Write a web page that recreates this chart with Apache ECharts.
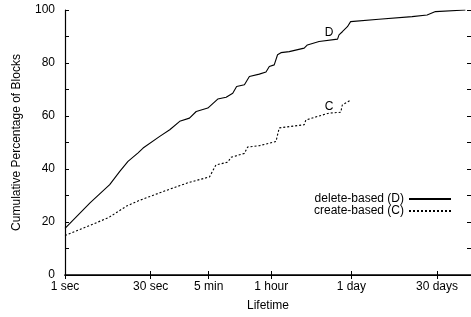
<!DOCTYPE html>
<html>
<head>
<meta charset="utf-8">
<script src="https://cdn.jsdelivr.net/npm/echarts@6/dist/echarts.min.js"></script>
<style>
  html, body { margin: 0; padding: 0; background: #fff; }
  #chart { width: 471px; height: 317px; }
</style>
</head>
<body>
<div id="chart"></div>
<script>
// lifetimes in seconds, cumulative % of blocks
var deleteSecs = [1, 2.7, 5.9, 8.8, 12.2, 18.2, 22.2, 43, 64, 95, 140, 183, 290, 430, 600, 780, 910, 1240, 1510, 2240, 2920, 3330, 4050, 4620, 5290, 7350, 13300, 15100, 24000, 50000, 53000, 60500, 74000, 84000, 258000, 965000, 1750000, 2440000, 8000000];
var deletePct = [17.6, 27.2, 34.1, 39.1, 42.9, 46.1, 47.9, 52.3, 54.8, 58.0, 59.2, 61.7, 63.0, 66.4, 67.1, 68.6, 71.1, 71.8, 74.9, 75.8, 76.6, 78.7, 79.3, 83.1, 83.9, 84.3, 85.6, 86.8, 88.1, 89.0, 90.6, 91.8, 93.7, 95.6, 96.5, 97.5, 98.1, 99.4, 100];
var createSecs = [1, 5.6, 11.5, 19.4, 43, 64, 140, 310, 400, 640, 730, 1240, 1410, 2240, 4340, 4940, 13300, 14200, 24000, 35700, 56800, 60500, 84000];
var createPct = [14.9, 21.6, 26.0, 28.2, 31.0, 32.4, 35.0, 37.0, 41.5, 42.6, 44.4, 45.9, 48.3, 48.8, 50.4, 55.5, 56.7, 58.5, 60.0, 61.1, 61.4, 64.2, 66.0];

var xTickValues = [1, 30, 300, 3600, 86400, 2592000];
var xTickLabels = ['1 sec', '30 sec', '5 min', '1 hour', '1 day', '30 days'];
var seriesNames = ['delete-based (D)', 'create-based (C)'];

function pairs(xs, ys) {
    return xs.map(function (x, i) { return [x, ys[i]]; });
}

var FONT = 'Liberation Sans';

var chart = echarts.init(document.getElementById('chart'));
chart.setOption({
    animation: false,
    textStyle: { fontFamily: FONT, color: '#000' },
    grid: { left: 65, right: -1, top: 10, bottom: 41 },
    legend: {
        orient: 'vertical',
        right: 14,
        top: 188,
        align: 'right',
        itemWidth: 42,
        itemHeight: 10,
        itemGap: 0,
        itemStyle: { opacity: 0 },
        textStyle: { fontFamily: FONT, fontSize: 12, color: '#000' },
        data: seriesNames
    },
    xAxis: [{
        type: 'log',
        logBase: 10,
        min: 1,
        max: 1e7,
        name: 'Lifetime',
        nameLocation: 'middle',
        nameGap: 25,
        nameTextStyle: { fontFamily: FONT, fontSize: 12, color: '#000' },
        axisLine: { show: true, lineStyle: { color: '#000', width: 1.6 } },
        axisTick: { show: true, inside: true, length: 4, customValues: xTickValues, lineStyle: { color: '#000' } },
        axisLabel: {
            margin: 6,
            fontSize: 12,
            color: '#000',
            customValues: xTickValues,
            formatter: function (v) {
                var i = xTickValues.indexOf(v);
                return i >= 0 ? xTickLabels[i] : '';
            }
        },
        splitLine: { show: false },
        minorTick: { show: false }
    }, {
        type: 'log',
        logBase: 10,
        min: 1,
        max: 1e7,
        position: 'top',
        axisLine: { show: true, lineStyle: { color: '#000', width: 1.2 } },
        axisTick: { show: true, inside: true, length: 4, customValues: xTickValues, lineStyle: { color: '#000' } },
        axisLabel: { show: false },
        splitLine: { show: false }
    }],
    yAxis: [{
        type: 'value',
        min: 0,
        max: 100,
        interval: 10,
        name: 'Cumulative Percentage of Blocks',
        nameLocation: 'middle',
        nameGap: 42,
        nameTextStyle: { fontFamily: FONT, fontSize: 12, color: '#000' },
        axisLine: { show: true, lineStyle: { color: '#000', width: 1.2 } },
        axisTick: { show: true, inside: true, length: 4, lineStyle: { color: '#000' } },
        axisLabel: {
            margin: 10,
            fontSize: 12,
            color: '#000',
            formatter: function (v) { return v % 20 === 0 ? String(v) : ''; }
        },
        splitLine: { show: false }
    }, {
        type: 'value',
        min: 0,
        max: 100,
        interval: 10,
        position: 'right',
        axisLine: { show: true, lineStyle: { color: '#000' } },
        axisTick: { show: true, inside: true, length: 4, lineStyle: { color: '#000' } },
        axisLabel: { show: false },
        splitLine: { show: false }
    }],
    series: [{
        name: seriesNames[0],
        type: 'line',
        symbol: 'none',
        data: pairs(deleteSecs, deletePct),
        lineStyle: { color: '#000', width: 1.1, type: 'solid' },
        itemStyle: { color: '#000' },
        markPoint: {
            symbol: 'circle',
            symbolSize: 0,
            label: { show: true, position: 'inside', formatter: 'D', fontSize: 12, color: '#000', fontFamily: FONT },
            data: [{ coord: [35700, 91.3] }]
        }
    }, {
        name: seriesNames[1],
        type: 'line',
        symbol: 'none',
        data: pairs(createSecs, createPct),
        lineStyle: { color: '#000', width: 1.1, type: [2, 2] },
        itemStyle: { color: '#000' },
        markPoint: {
            symbol: 'circle',
            symbolSize: 0,
            label: { show: true, position: 'inside', formatter: 'C', fontSize: 12, color: '#000', fontFamily: FONT },
            data: [{ coord: [35700, 63.5] }]
        }
    }]
});
</script>
</body>
</html>
